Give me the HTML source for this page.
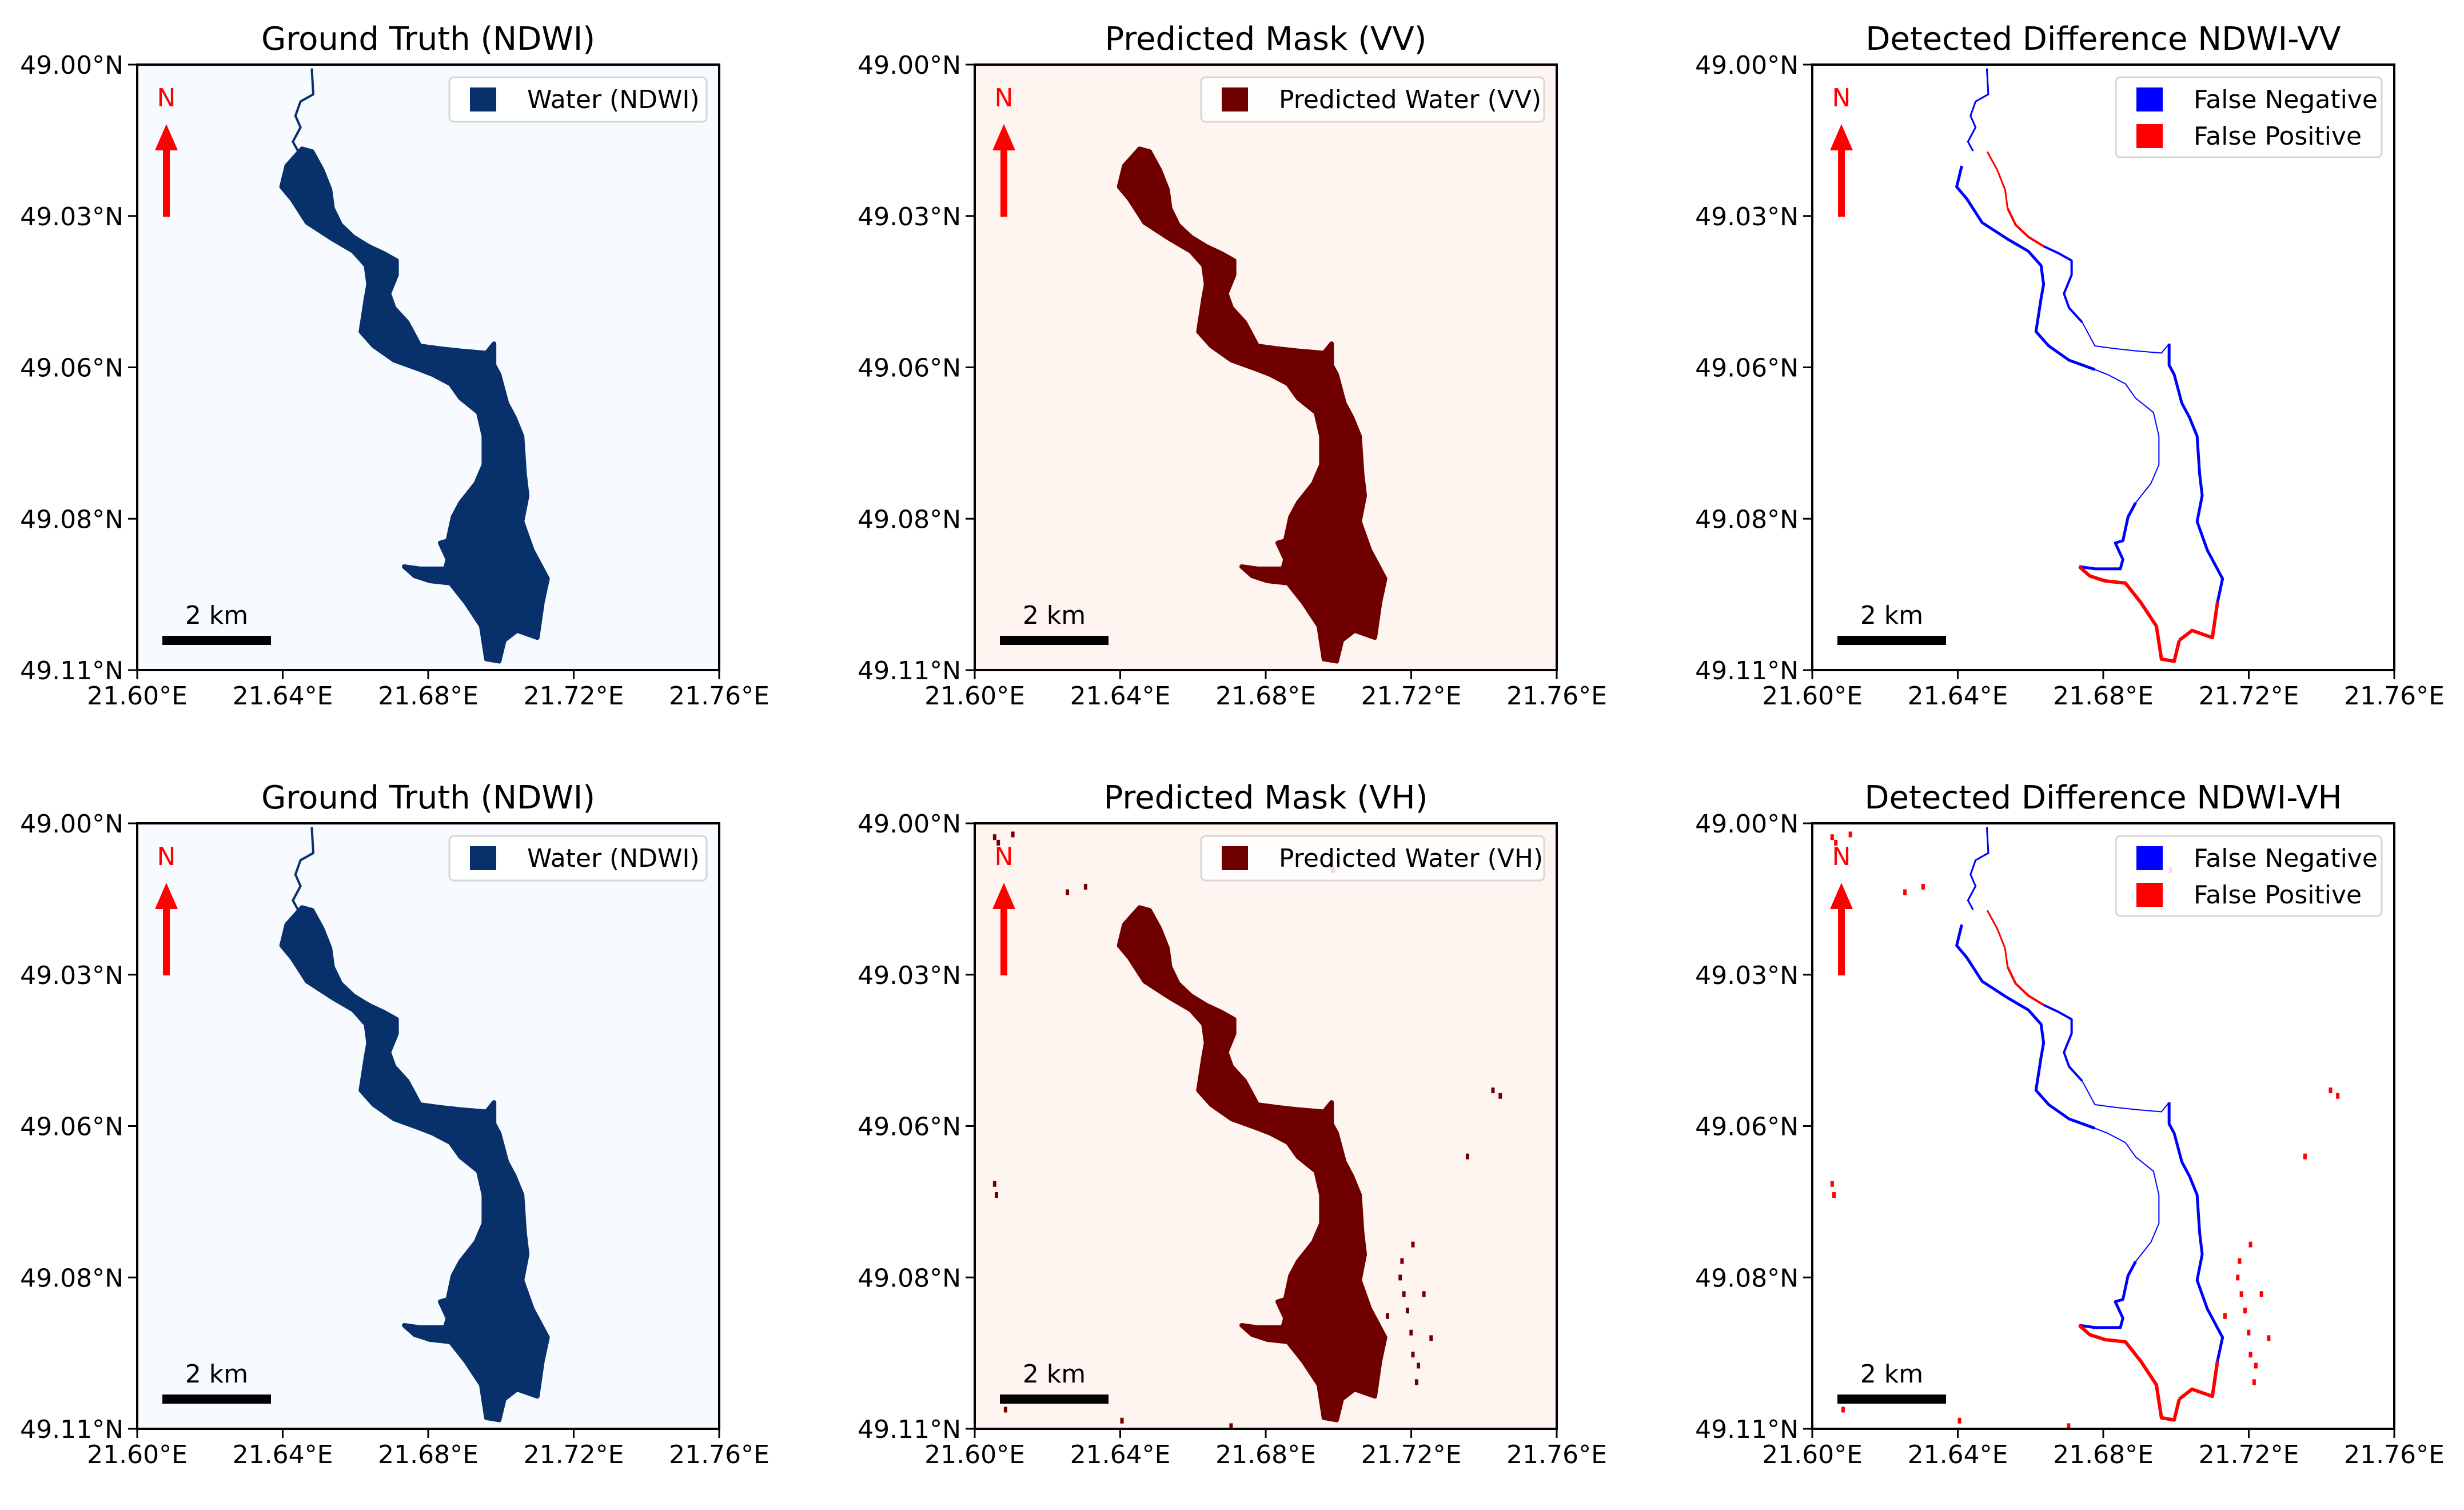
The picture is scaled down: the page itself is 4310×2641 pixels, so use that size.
<!DOCTYPE html>
<html><head><meta charset="utf-8"><style>
html,body{margin:0;padding:0;background:#fff}
svg{display:block}
text{font-family:"DejaVu Sans","Liberation Sans",sans-serif}
</style></head><body>
<svg id="fig" width="4310" height="2641" viewBox="0 0 4310 2641" xmlns="http://www.w3.org/2000/svg"></svg>
<script>
// ---- data ----
const lakeLon=[21.6453,21.6411,21.6397,21.6425,21.6467,21.6537,21.6594,21.6629,21.6636,21.6629,21.6615,21.6650,21.6706,21.6777,21.6812,21.6861,21.6889,21.6938,21.6953,21.6953,21.6931,21.6889,21.6868,21.6854,21.6833,21.6854,21.6847,21.6777,21.6734,21.6763,21.6805,21.6861,21.6903,21.6946,21.6960,21.6995,21.7009,21.7044,21.7100,21.7114,21.7128,21.7086,21.7058,21.7072,21.7065,21.7058,21.7037,21.7016,21.6995,21.6981,21.6981,21.6960,21.6889,21.6833,21.6777,21.6756,21.6742,21.6706,21.6692,21.6713,21.6713,21.6678,21.6636,21.6594,21.6559,21.6537,21.6530,21.6509,21.6481];
const lakeLat=[49.0153,49.0184,49.0222,49.0244,49.0287,49.0317,49.0339,49.0365,49.0399,49.0425,49.0485,49.0511,49.0537,49.0554,49.0563,49.0580,49.0606,49.0632,49.0675,49.0727,49.0761,49.0796,49.0822,49.0865,49.0869,49.0899,49.0916,49.0916,49.0912,49.0929,49.0938,49.0942,49.0977,49.1020,49.1080,49.1084,49.1046,49.1028,49.1041,49.0977,49.0934,49.0882,49.0830,49.0783,49.0744,49.0675,49.0641,49.0615,49.0563,49.0546,49.0507,49.0524,49.0520,49.0516,49.0511,49.0485,49.0468,49.0442,49.0416,49.0382,49.0356,49.0343,49.0330,49.0313,49.0291,49.0261,49.0227,49.0192,49.0158];
const riverLon=[21.6480,21.6484,21.6449,21.6435,21.6449,21.6428,21.6442];
const riverLat=[49.0007,49.0054,49.0067,49.0093,49.0114,49.0140,49.0157];
// difference segments: start index, end index, type (0 = false negative, 1 = false positive)
const segStart=[1,13,21,28,36,39,50,56,62,65];
const segEnd=[13,21,28,36,39,50,56,62,65,68];
const segType=[0,0,0,1,1,0,0,0,1,1];
const segWidth=[5,2,5,6,6,5,2,4,4,3];
const speckLon=[21.7175,21.7185,21.7195,21.7200,21.7210,21.7165,21.7215,21.6050,21.6055,21.7420,21.7440,21.7350,21.7200,21.6050,21.6100,21.6250,21.6300,21.6980,21.7230,21.7170,21.6060,21.7130,21.7250,21.6400,21.6700,21.6080];
const speckLat=[49.0850,49.0880,49.0920,49.0960,49.1010,49.0820,49.0980,49.0650,49.0670,49.0480,49.0490,49.0600,49.0760,49.0020,49.0015,49.0120,49.0110,49.0080,49.0850,49.0790,49.0030,49.0890,49.0930,49.1080,49.1090,49.1060];
const xTicks=[21.60,21.64,21.68,21.72,21.76];
const xTickLabels=["21.60°E","21.64°E","21.68°E","21.72°E","21.76°E"];
const yTicks=[49.00,49.0275,49.055,49.0825,49.11];
const yTickLabels=["49.00°N","49.03°N","49.06°N","49.08°N","49.11°N"];

const svg=document.getElementById('fig');
const NS='http://www.w3.org/2000/svg';
function mk(tag,attrs,parent){const e=document.createElementNS(NS,tag);for(const k in attrs)e.setAttribute(k,attrs[k]);(parent||svg).appendChild(e);return e;}

const W=1018,H=1059;
const panels=[
 {x:240,y:113,title:"Ground Truth (NDWI)",kind:"gt",name:"ground-truth-top"},
 {x:1705,y:113,title:"Predicted Mask (VV)",kind:"pred",leg:"Predicted Water (VV)",name:"predicted-vv"},
 {x:3170,y:113,title:"Detected Difference NDWI-VV",kind:"diff",speck:false,name:"difference-vv"},
 {x:240,y:1440,title:"Ground Truth (NDWI)",kind:"gt",name:"ground-truth-bottom"},
 {x:1705,y:1440,title:"Predicted Mask (VH)",kind:"pred",leg:"Predicted Water (VH)",speck:true,name:"predicted-vh"},
 {x:3170,y:1440,title:"Detected Difference NDWI-VH",kind:"diff",speck:true,name:"difference-vh"}
];

panels.forEach(p=>{
  const g=mk('g',{});
  
  
  const sx=v=>p.x+(v-21.60)/0.16*W;
  const sy=v=>p.y+(v-49.00)/0.11*H;
  const bg=p.kind==='gt'?'#f7fbff':(p.kind==='pred'?'#fff5f0':'#ffffff');
  const water=p.kind==='gt'?'#08306b':'#700000';
  const r=mk('rect',{x:p.x,y:p.y,width:W,height:H,fill:bg},g);
  
  
  const pts=lakeLon.map((v,i)=>sx(v)+','+sy(lakeLat[i])).join(' ');
  if(p.kind!=='diff'){
    const lake=mk('polygon',{points:pts,fill:water,stroke:water,'stroke-width':8,'stroke-linejoin':'round'},g);
    
    
    if(p.kind==='gt'){
      const rv=mk('polyline',{points:riverLon.map((v,i)=>sx(v)+','+sy(riverLat[i])).join(' '),fill:'none',stroke:water,'stroke-width':4},g);
      
      
    }
    if(p.speck){
      speckLon.forEach((v,i)=>{
        const s=mk('rect',{x:sx(v),y:sy(speckLat[i]),width:6,height:10,fill:water},g);
        
        
      });
    }
  } else {
    segStart.forEach((s,k)=>{
      const idx=[];for(let i=s;i<=segEnd[k];i++)idx.push(i);
      const pl=mk('polyline',{points:idx.map(i=>sx(lakeLon[i])+','+sy(lakeLat[i])).join(' '),fill:'none',stroke:segType[k]?'#ff0000':'#0000ff','stroke-width':segWidth[k],'stroke-linejoin':'round'},g);
      
      
    });
    const rv=mk('polyline',{points:riverLon.map((v,i)=>sx(v)+','+sy(riverLat[i])).join(' '),fill:'none',stroke:'#0000ff','stroke-width':3},g);
    
    
    if(p.speck){
      speckLon.forEach((v,i)=>{
        const s=mk('rect',{x:sx(v),y:sy(speckLat[i]),width:6,height:10,fill:'#ff0000'},g);
        
        
      });
    }
  }
  const fr=mk('rect',{x:p.x,y:p.y,width:W,height:H,fill:'none',stroke:'#000','stroke-width':4},g);
  
  
  xTicks.forEach((t,i)=>{
    const X=sx(t);
    const l=mk('line',{x1:X,x2:X,y1:p.y+H,y2:p.y+H+16,stroke:'#000','stroke-width':3},g);
    
    
    const tx=mk('text',{x:X,y:p.y+H+60,'font-size':44,'text-anchor':'middle',fill:'#000'},g);
    tx.textContent=xTickLabels[i];
    
    
  });
  yTicks.forEach((t,i)=>{
    const Y=sy(t);
    const l=mk('line',{x1:p.x-16,x2:p.x,y1:Y,y2:Y,stroke:'#000','stroke-width':3},g);
    
    
    const tx=mk('text',{x:p.x-24,y:Y+16,'font-size':44,'text-anchor':'end',fill:'#000'},g);
    tx.textContent=yTickLabels[i];
    
    
  });
  const ti=mk('text',{x:p.x+W/2,y:p.y-26,'font-size':56,'text-anchor':'middle',fill:'#000'},g);
  ti.textContent=p.title;
  
  
  const nt=mk('text',{x:p.x+51,y:p.y+73,'font-size':44,'text-anchor':'middle',fill:'#ff0000'},g);
  nt.textContent='N';
  
  
  const ar=mk('polygon',{points:`${p.x+51},${p.y+104} ${p.x+71},${p.y+150} ${p.x+57},${p.y+150} ${p.x+57},${p.y+266} ${p.x+45},${p.y+266} ${p.x+45},${p.y+150} ${p.x+31},${p.y+150}`,fill:'#ff0000'},g);
  
  
  const sb=mk('rect',{x:p.x+44,y:p.y+999,width:190,height:16,fill:'#000'},g);
  
  
  const st=mk('text',{x:p.x+139,y:p.y+978,'font-size':44,'text-anchor':'middle',fill:'#000'},g);
  st.textContent='2 km';
  
  
  const lg=mk('g',{},g);
  
  
  let entries;
  if(p.kind==='gt')entries=[['Water (NDWI)','#08306b']];
  else if(p.kind==='pred')entries=[[p.leg,'#700000']];
  else entries=[['False Negative','#0000ff'],['False Positive','#ff0000']];
  const lw=p.kind==='gt'?450:(p.kind==='pred'?600:465);
  const lh=entries.length===1?78:140;
  const lx=p.x+W-lw-22, ly=p.y+22;
  mk('rect',{x:lx,y:ly,width:lw,height:lh,rx:8,fill:'#fff','fill-opacity':0.85,stroke:'#d6d6d6','stroke-width':3},lg);
  entries.forEach((e,i)=>{
    const cy=ly+39+i*64;
    const sw=mk('rect',{x:lx+36,y:cy-21,width:46,height:42,fill:e[1]},lg);
    
    
    const t=mk('text',{x:lx+136,y:cy+15,'font-size':44,fill:'#000'},lg);
    t.textContent=e[0];
    
    
  });
});
</script>
</body></html>
